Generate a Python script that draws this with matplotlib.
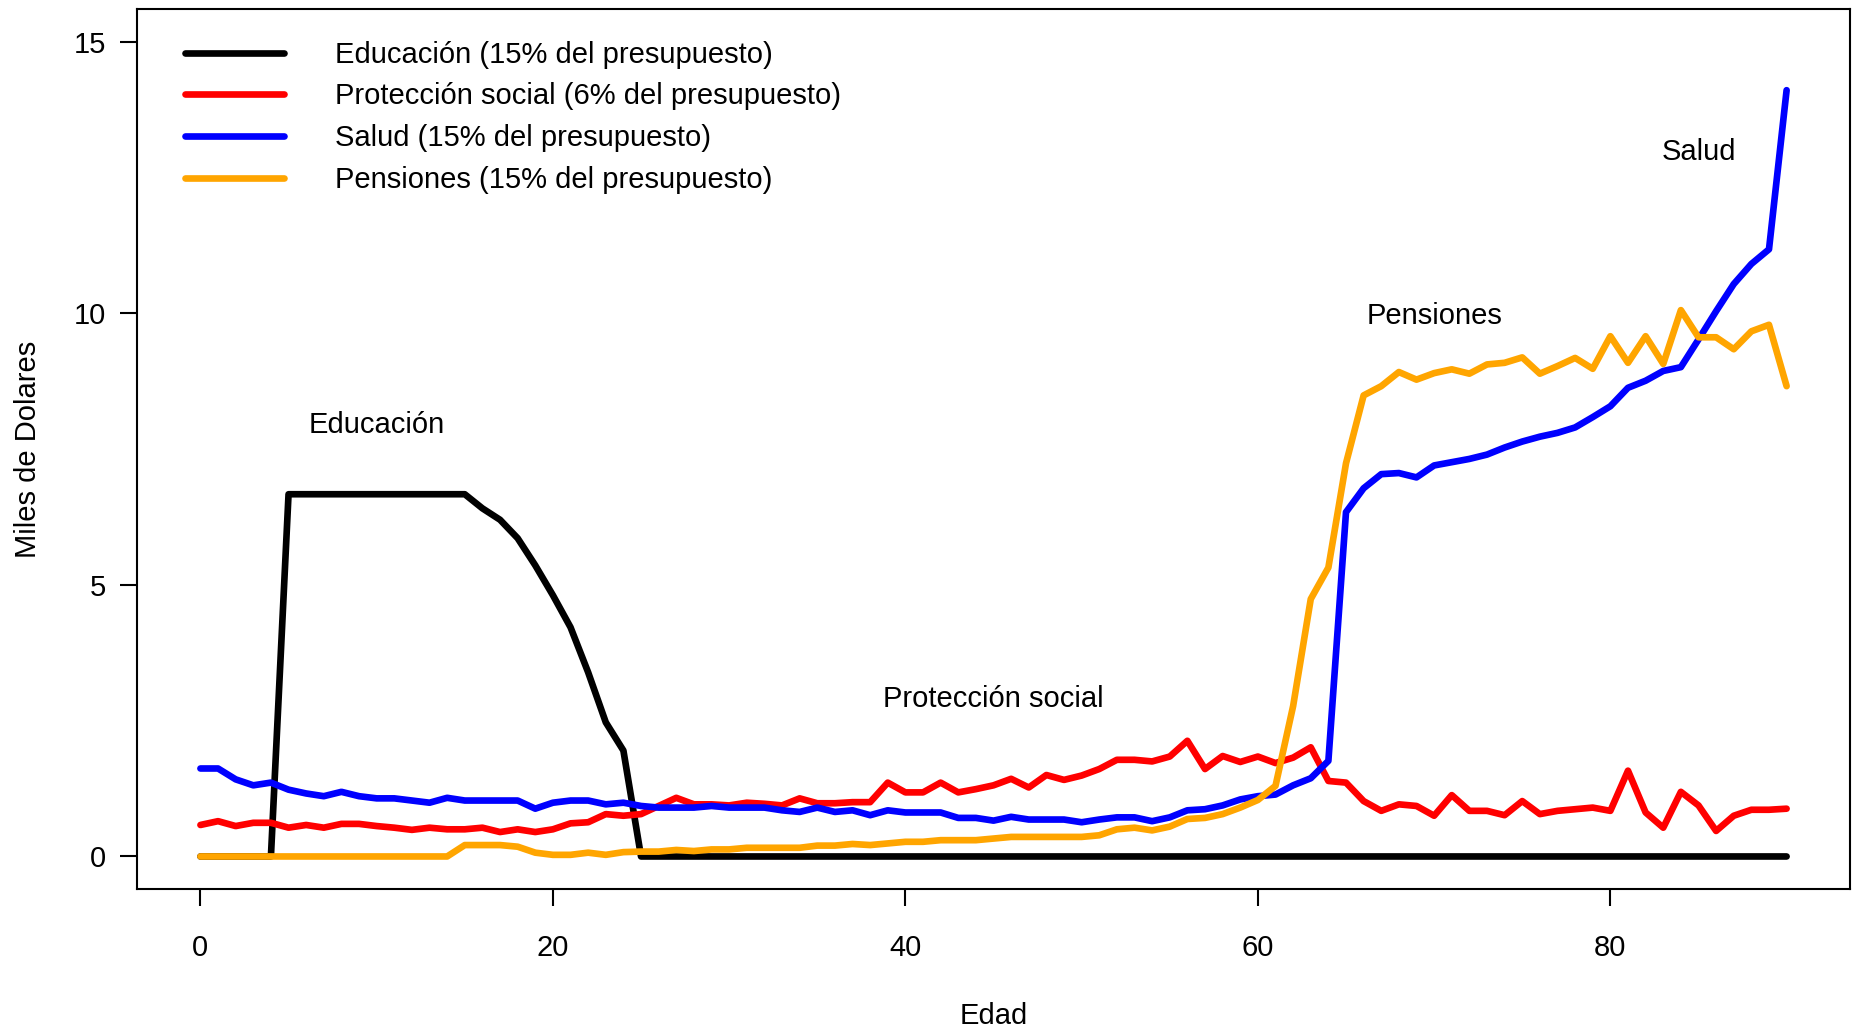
import numpy as np
import matplotlib
matplotlib.use("Agg")
import matplotlib.pyplot as plt

plt.rcParams['font.family'] = ['Liberation Sans', 'DejaVu Sans']

edad = list(range(0, 91))

educacion = [0, 0, 0, 0, 0,
             6.67, 6.67, 6.67, 6.67, 6.67, 6.67, 6.67, 6.67, 6.67, 6.67, 6.67,
             6.41, 6.20, 5.86, 5.36, 4.81, 4.22, 3.39, 2.47, 1.95] + [0] * 66

proteccion = [0.58, 0.65, 0.56, 0.62, 0.62, 0.53, 0.58, 0.53, 0.60, 0.60,
              0.56, 0.53, 0.49, 0.53, 0.50, 0.50, 0.53, 0.45, 0.50, 0.45,
              0.50, 0.61, 0.63, 0.78, 0.75, 0.78, 0.93, 1.08, 0.96, 0.96,
              0.94, 0.99, 0.97, 0.94, 1.07, 0.98, 0.98, 1.00, 1.00, 1.36,
              1.18, 1.18, 1.36, 1.18, 1.24, 1.31, 1.43, 1.27, 1.50, 1.41,
              1.49, 1.61, 1.78, 1.78, 1.75, 1.84, 2.13, 1.61, 1.85, 1.74,
              1.84, 1.72, 1.82, 2.01, 1.39, 1.36, 1.02, 0.84, 0.96, 0.93,
              0.75, 1.13, 0.84, 0.84, 0.76, 1.02, 0.78, 0.84, 0.87, 0.90,
              0.84, 1.58, 0.81, 0.53, 1.19, 0.94, 0.47, 0.75, 0.86, 0.86,
              0.88]

salud = [1.62, 1.62, 1.42, 1.31, 1.36, 1.23, 1.16, 1.11, 1.19, 1.11,
         1.07, 1.07, 1.03, 0.99, 1.08, 1.03, 1.03, 1.03, 1.03, 0.88,
         0.99, 1.03, 1.03, 0.96, 0.99, 0.93, 0.90, 0.90, 0.90, 0.93,
         0.90, 0.90, 0.90, 0.85, 0.82, 0.90, 0.82, 0.85, 0.76, 0.85,
         0.81, 0.81, 0.81, 0.71, 0.71, 0.66, 0.73, 0.68, 0.68, 0.68,
         0.63, 0.68, 0.72, 0.72, 0.65, 0.72, 0.85, 0.87, 0.94, 1.05,
         1.11, 1.14, 1.31, 1.44, 1.76, 6.34, 6.78, 7.04, 7.06, 6.98,
         7.20, 7.26, 7.32, 7.40, 7.53, 7.64, 7.73, 7.80, 7.90, 8.09,
         8.29, 8.63, 8.76, 8.94, 9.01, 9.52, 10.04, 10.54, 10.91, 11.18,
         14.11]

pensiones = [0] * 15 + [
    0.21, 0.21, 0.21, 0.18, 0.07, 0.03, 0.03, 0.07, 0.03, 0.08,
    0.09, 0.09, 0.12, 0.10, 0.13, 0.13, 0.16, 0.16, 0.16, 0.16,
    0.20, 0.20, 0.23, 0.21, 0.24, 0.27, 0.27, 0.30, 0.30, 0.30,
    0.33, 0.36, 0.36, 0.36, 0.36, 0.36, 0.39, 0.50, 0.53, 0.48,
    0.55, 0.69, 0.71, 0.78, 0.90, 1.04, 1.30, 2.77, 4.74, 5.32,
    7.24, 8.49, 8.66, 8.92, 8.78, 8.90, 8.97, 8.89, 9.06, 9.09,
    9.19, 8.89, 9.03, 9.18, 8.98, 9.58, 9.09, 9.58, 9.07, 10.06,
    9.56, 9.56, 9.34, 9.67, 9.79, 8.66]

series = [
    (educacion, "black", "Educación (15% del presupuesto)"),
    (proteccion, "red", "Protección social (6% del presupuesto)"),
    (salud, "blue", "Salud (15% del presupuesto)"),
    (pensiones, "orange", "Pensiones (15% del presupuesto)"),
]

etiquetas = [("Educación", 10, 7.95), ("Protección social", 45, 2.9),
             ("Pensiones", 70, 9.95), ("Salud", 85, 12.97)]

fs = 21
fig = plt.figure(figsize=(18.56, 10.29), dpi=100)
ax = fig.add_axes([0.0738, 0.136, 0.923, 0.855])

for vals, col, lab in series:
    ax.plot(edad, vals, color=col, lw=4.8, label=lab,
            solid_capstyle='round', solid_joinstyle='round')

for txt, x, y in etiquetas:
    ax.text(x, y, txt, ha='center', va='center', fontsize=fs)

ax.set_xlim(-3.6, 93.6)
ax.set_ylim(-0.6, 15.6)
ax.set_xticks([0, 20, 40, 60, 80])
ax.set_yticks([0, 5, 10, 15])
for s in ax.spines.values():
    s.set_linewidth(1.5)
ax.tick_params(axis='both', length=12, width=1.5, labelsize=fs)
ax.tick_params(axis='x', pad=20)
ax.tick_params(axis='y', pad=10)
ax.set_xlabel("Edad", fontsize=fs, labelpad=29)
ax.set_ylabel("Miles de Dolares", fontsize=fs, labelpad=23)

leg = ax.legend(loc='upper left', frameon=False, fontsize=fs,
                handlelength=3.4, handletextpad=1.75, labelspacing=0.47,
                borderaxespad=0.68, bbox_to_anchor=(0.0095, 1.0))

fig.savefig("out.png", dpi=100)
